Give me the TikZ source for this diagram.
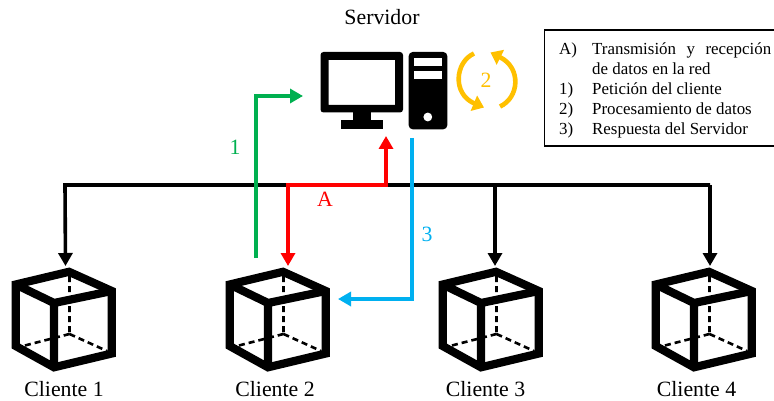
\documentclass[tikz,border=0pt]{standalone}
\usepackage{fontspec}
\setmainfont{Liberation Serif}
\usetikzlibrary{arrows.meta}
\definecolor{cgreen}{HTML}{00B050}
\definecolor{cred}{HTML}{FF0000}
\definecolor{cblue}{HTML}{00B0F0}
\definecolor{cyellow}{HTML}{FFC000}
\tikzset{
  wire/.style={line width=3.6pt,line join=miter},
  tip/.style={-{Triangle[length=13pt,width=14pt]}},
  bothtips/.style={{Triangle[length=13pt,width=14pt]}-{Triangle[length=13pt,width=14pt]}},
  turn/.style={line width=4.6pt,cyellow,-{Triangle[length=11pt,width=16pt]}},
  lbl/.style={inner sep=0pt,anchor=base,font=\fontsize{21.8}{21.8}\selectfont},
  legend/.style={inner sep=0pt,anchor=base west,font=\fontsize{16.9}{16.9}\selectfont},
  clientcube/.pic={
    \draw[line width=8.2pt,line join=miter,miter limit=4]
      (69,271.8) -- (15.7,284.5) -- (15.7,346) -- (54,367.3) -- (111.8,353.5) -- (111.8,291) -- cycle;
    \draw[line width=8.2pt,line join=miter,miter limit=4]
      (15.7,284.5) -- (54,303) -- (111.8,291) (54,303) -- (54,367.3);
    \draw[line width=2.6pt,dash pattern=on 6pt off 4pt]
      (69.5,276) -- (69.5,334) (69.5,334) -- (23,346) (69.5,334) -- (107,351);
  }
}
\begin{document}
\begin{tikzpicture}[x=1pt,y=-1pt]
\useasboundingbox (0,0) rectangle (774,401);
\clip (0,0) rectangle (774,401);
% clients
\pic at (0,0) {clientcube};
\pic at (214,0) {clientcube};
\pic at (427,0) {clientcube};
\pic at (640,0) {clientcube};
\node[lbl] (n1) at (64,396) {Cliente 1};
\node[lbl] (n2) at (275,396) {Cliente 2};
\node[lbl] (n3) at (485.5,396) {Cliente 3};
\node[lbl] (n4) at (696.5,396) {Cliente 4};
% server
\node[lbl] (srv) at (382,25) {Servidor};
\fill[even odd rule,rounded corners=3pt] (320.5,52) rectangle (403,112.5)
  [sharp corners] (328.7,60) rectangle (395,105);
\fill (353,112) rectangle (371,121);
\fill (341,120) rectangle (383,129.3);
\fill[rounded corners=4pt] (408.7,52) rectangle (447.3,129.3);
\fill[white] (414,58) rectangle (442,66);
\fill[white] (414,71.5) rectangle (442,79.5);
\fill[white] (427.8,117) circle (4.4pt);
% processing arrows
\draw[turn] (474,53.5) .. controls (455,62) and (452,94) .. (484,107.5);
\draw[turn] (500,106.5) .. controls (519,98) and (522,68) .. (490.5,52.5);
\node[lbl,text=cyellow] (two) at (486,87.5) {2};
% junctions and free ends
\coordinate (b0) at (65,185);
\coordinate (b1) at (288,185);
\coordinate (b2) at (386,185);
\coordinate (b3) at (495,185);
\coordinate (b4) at (710,185);
\coordinate (c1) at (65.5,266);
\coordinate (c2) at (288,266);
\coordinate (c3) at (495,266);
\coordinate (c4) at (710,266);
\coordinate (greenstart) at (256,258);
\coordinate (greencorner) at (256,96);
\coordinate (greenend) at (303,96);
\coordinate (blueend) at (338,299);
\coordinate (bluecorner) at (412,299);
\coordinate (bluestart) at (412,138);
\coordinate (redend) at (386,136);
% bus
\draw[wire,tip] (b4) -- (b0) -- (c1);
\draw[wire,tip] (b3) -- (c3);
\draw[wire,tip] (b4) -- (c4);
% flows
\draw[wire,cgreen,tip] (greenstart) -- (greencorner) -- (greenend);
\draw[wire,cblue,tip] (bluestart) -- (bluecorner) -- (blueend);
\draw[wire,cred,bothtips] (c2) -- (b1) -- (b2) -- (redend);
\node[lbl,text=cgreen] (one) at (235,154) {1};
\node[lbl,text=cred] (a) at (325,207) {A};
\node[lbl,text=cblue] (three) at (427,241) {3};
% legend
\draw[line width=1.6pt] (544.5,30) rectangle (780,146);
\node[legend] (la) at (559,55) {A)};
\node[legend] (lat) at (592,55) {\hbox to 179pt{Transmisión\hfill y\hfill recepción}};
\node[legend] (lat2) at (592,75) {de datos en la red};
\node[legend] (l1) at (559,95) {1)};
\node[legend] (l1t) at (592,95) {Petición del cliente};
\node[legend] (l2) at (559,115) {2)};
\node[legend] (l2t) at (592,115) {Procesamiento de datos};
\node[legend] (l3) at (559,135) {3)};
\node[legend] (l3t) at (592,135) {Respuesta del Servidor};
\end{tikzpicture}
\end{document}
